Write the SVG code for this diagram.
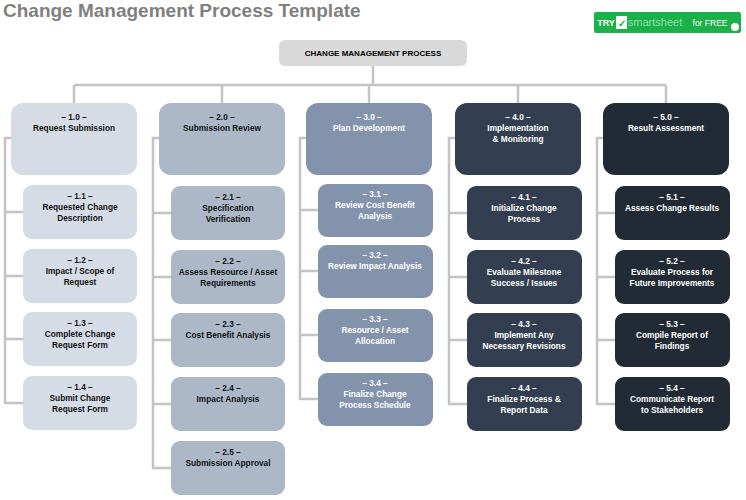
<svg xmlns="http://www.w3.org/2000/svg" width="746" height="500" viewBox="0 0 746 500">
<style>
text{font-family:"Liberation Sans",Arial,sans-serif;font-weight:bold;font-size:8.3px;text-anchor:middle}
.c line,.c path{stroke:#c4c4c4;stroke-width:2.5;fill:none}
.k1 rect{fill:#d6dce6}.k2 rect{fill:#acb8c8}.k3 rect{fill:#8393ac}.k4 rect{fill:#333f50}.k5 rect{fill:#222a35}
.k1 text,.k2 text{fill:#111}.k3 text,.k4 text,.k5 text{fill:#fff}
</style>
<rect width="746" height="500" fill="#fff"/>
<text x="3" y="17" style="font-size:19px;text-anchor:start;fill:#7f7f7f">Change Management Process Template</text>
<g id="badge">
<rect x="594" y="12" width="147" height="21" rx="2" fill="#1bb04a"/>
<text x="606" y="26" style="fill:#fff;font-size:9px">TRY</text>
<rect x="616" y="16" width="11" height="13" fill="#fff"/>
<text x="621.5" y="27" style="fill:#1bb04a;font-size:10px">✓</text>
<text x="655" y="26" style="fill:#8fe0a8;font-size:11px;font-weight:normal">smartsheet</text>
<text x="710" y="26" style="fill:#fff;font-size:8.5px;font-weight:normal">for FREE</text>
<circle cx="735" cy="27" r="4" fill="#fff"/>
</g>
<g class="c">
<line x1="373" y1="66" x2="373" y2="85"/>
<line x1="74" y1="85" x2="666" y2="85"/>
<line x1="74" y1="85" x2="74" y2="103"/><line x1="222" y1="85" x2="222" y2="103"/><line x1="369" y1="85" x2="369" y2="103"/><line x1="518" y1="85" x2="518" y2="103"/><line x1="666" y1="85" x2="666" y2="103"/>
<path d="M11 138H5V403H23M5 212H23M5 276H23M5 339H23"/>
<path d="M159 138H153V468H171M153 213H171M153 277H171M153 340H171M153 404H171"/>
<path d="M306 138H300V399H318M300 210H318M300 271H318M300 335H318"/>
<path d="M455 138H449V404H467M449 213H467M449 277H467M449 340H467"/>
<path d="M603 138H597V404H615M597 213H615M597 277H615M597 340H615"/>
</g>
<g id="root"><rect x="279" y="40" width="188" height="26" rx="6" fill="#d9d9d9"/><text x="373" y="56" style="font-size:8px">CHANGE MANAGEMENT PROCESS</text></g>
<g class="k1">
<g id="n1"><rect x="11" y="103" width="126" height="72" rx="12"/><text x="74" y="120">– 1.0 –</text><text x="74" y="131">Request Submission</text></g>
<g id="n11"><rect x="23" y="185" width="114" height="54" rx="9"/><text x="80" y="199">– 1.1 –</text><text x="80" y="210">Requested Change</text><text x="80" y="221">Description</text></g>
<g id="n12"><rect x="23" y="249" width="114" height="54" rx="9"/><text x="80" y="263">– 1.2 –</text><text x="80" y="274">Impact / Scope of</text><text x="80" y="285">Request</text></g>
<g id="n13"><rect x="23" y="312" width="114" height="54" rx="9"/><text x="80" y="326">– 1.3 –</text><text x="80" y="337">Complete Change</text><text x="80" y="348">Request Form</text></g>
<g id="n14"><rect x="23" y="376" width="114" height="54" rx="9"/><text x="80" y="390">– 1.4 –</text><text x="80" y="401">Submit Change</text><text x="80" y="412">Request Form</text></g>
</g>
<g class="k2">
<g id="n2"><rect x="159" y="103" width="126" height="72" rx="12"/><text x="222" y="120">– 2.0 –</text><text x="222" y="131">Submission Review</text></g>
<g id="n21"><rect x="171" y="186" width="114" height="54" rx="9"/><text x="228" y="200">– 2.1 –</text><text x="228" y="211">Specification</text><text x="228" y="222">Verification</text></g>
<g id="n22"><rect x="171" y="250" width="114" height="54" rx="9"/><text x="228" y="264">– 2.2 –</text><text x="228" y="275">Assess Resource / Asset</text><text x="228" y="286">Requirements</text></g>
<g id="n23"><rect x="171" y="313" width="114" height="54" rx="9"/><text x="228" y="327">– 2.3 –</text><text x="228" y="338">Cost Benefit Analysis</text></g>
<g id="n24"><rect x="171" y="377" width="114" height="54" rx="9"/><text x="228" y="391">– 2.4 –</text><text x="228" y="402">Impact Analysis</text></g>
<g id="n25"><rect x="171" y="441" width="114" height="54" rx="9"/><text x="228" y="455">– 2.5 –</text><text x="228" y="466">Submission Approval</text></g>
</g>
<g class="k3">
<g id="n3"><rect x="306" y="103" width="126" height="72" rx="12"/><text x="369" y="120">– 3.0 –</text><text x="369" y="131">Plan Development</text></g>
<g id="n31"><rect x="318" y="184" width="115" height="53" rx="9"/><text x="375" y="197">– 3.1 –</text><text x="375" y="208">Review Cost Benefit</text><text x="375" y="219">Analysis</text></g>
<g id="n32"><rect x="318" y="245" width="115" height="53" rx="9"/><text x="375" y="258">– 3.2 –</text><text x="375" y="269">Review Impact Analysis</text></g>
<g id="n33"><rect x="318" y="309" width="115" height="53" rx="9"/><text x="375" y="322">– 3.3 –</text><text x="375" y="333">Resource / Asset</text><text x="375" y="344">Allocation</text></g>
<g id="n34"><rect x="318" y="373" width="115" height="53" rx="9"/><text x="375" y="386">– 3.4 –</text><text x="375" y="397">Finalize Change</text><text x="375" y="408">Process Schedule</text></g>
</g>
<g class="k4">
<g id="n4"><rect x="455" y="103" width="126" height="72" rx="12"/><text x="518" y="120">– 4.0 –</text><text x="518" y="131">Implementation</text><text x="518" y="142">&amp; Monitoring</text></g>
<g id="n41"><rect x="467" y="186" width="115" height="54" rx="9"/><text x="524" y="200">– 4.1 –</text><text x="524" y="211">Initialize Change</text><text x="524" y="222">Process</text></g>
<g id="n42"><rect x="467" y="250" width="115" height="54" rx="9"/><text x="524" y="264">– 4.2 –</text><text x="524" y="275">Evaluate Milestone</text><text x="524" y="286">Success / Issues</text></g>
<g id="n43"><rect x="467" y="313" width="115" height="54" rx="9"/><text x="524" y="327">– 4.3 –</text><text x="524" y="338">Implement Any</text><text x="524" y="349">Necessary Revisions</text></g>
<g id="n44"><rect x="467" y="377" width="115" height="54" rx="9"/><text x="524" y="391">– 4.4 –</text><text x="524" y="402">Finalize Process &amp;</text><text x="524" y="413">Report Data</text></g>
</g>
<g class="k5">
<g id="n5"><rect x="603" y="103" width="126" height="72" rx="12"/><text x="666" y="120">– 5.0 –</text><text x="666" y="131">Result Assessment</text></g>
<g id="n51"><rect x="615" y="186" width="115" height="54" rx="9"/><text x="672" y="200">– 5.1 –</text><text x="672" y="211">Assess Change Results</text></g>
<g id="n52"><rect x="615" y="250" width="115" height="54" rx="9"/><text x="672" y="264">– 5.2 –</text><text x="672" y="275">Evaluate Process for</text><text x="672" y="286">Future Improvements</text></g>
<g id="n53"><rect x="615" y="313" width="115" height="54" rx="9"/><text x="672" y="327">– 5.3 –</text><text x="672" y="338">Compile Report of</text><text x="672" y="349">Findings</text></g>
<g id="n54"><rect x="615" y="377" width="115" height="54" rx="9"/><text x="672" y="391">– 5.4 –</text><text x="672" y="402">Communicate Report</text><text x="672" y="413">to Stakeholders</text></g>
</g>
</svg>
